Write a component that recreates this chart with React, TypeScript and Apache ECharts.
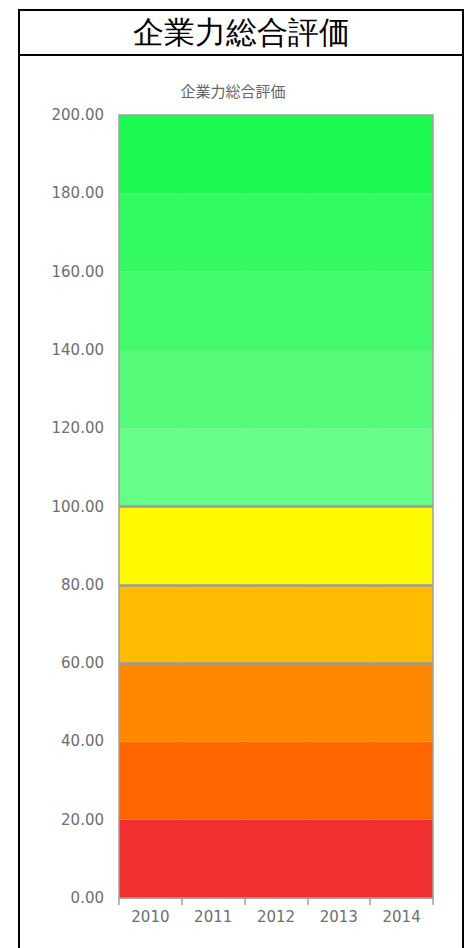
import React, { useEffect, useRef } from "react";
import * as echarts from "echarts";

const pageTitle = "企業力総合評価";
const chartTitle = "企業力総合評価";
const years = ["2010", "2011", "2012", "2013", "2014"];
// height of each colour band (bottom to top), same for every year
const bandHeights = [20, 20, 20, 20, 20, 20, 20, 20, 20, 20];
const bandColors = [
  "#f12f31",
  "#ff6600",
  "#ff8800",
  "#ffbb00",
  "#fffa00",
  "#66fd88",
  "#55fb78",
  "#43fa6c",
  "#33fa60",
  "#1dfa52",
];
const thresholdLines = [60, 80, 100];
const yMin = 0;
const yMax = 200;
const yStep = 20;

export default function App() {
  const ref = useRef<HTMLDivElement>(null);

  useEffect(() => {
    if (!ref.current) return;
    const chart = echarts.init(ref.current, undefined, { renderer: "svg" });
    const series: any[] = bandHeights.map((h, i) => ({
      name: `band${i + 1}`,
      type: "bar",
      stack: "bands",
      barWidth: "103%",
      clip: true,
      itemStyle: { color: bandColors[i] },
      data: years.map(() => h),
      silent: true,
    }));
    series[series.length - 1].markLine = {
      silent: true,
      symbol: "none",
      label: { show: false },
      lineStyle: { color: "#9a9a9a", width: 2.5, type: "solid" },
      data: thresholdLines.map((v) => ({ yAxis: v })),
    };
    chart.setOption({
      animation: false,
      title: {
        text: chartTitle,
        left: 228,
        top: 79,
        textAlign: "center",
        textStyle: {
          fontSize: 15,
          fontWeight: "normal",
          color: "#666",
          fontFamily: "DejaVu Sans, Noto Sans CJK JP, sans-serif",
        },
      },
      grid: {
        left: 119,
        right: 35,
        top: 115,
        bottom: 50,
        show: true,
        borderColor: "#a0a0a0",
        borderWidth: 1.5,
        backgroundColor: "transparent",
        z: 5,
      },
      xAxis: {
        type: "category",
        data: years,
        boundaryGap: true,
        axisLine: { show: true, lineStyle: { color: "#a0a0a0", width: 1.5 } },
        axisTick: { show: true, length: 7, lineStyle: { color: "#a0a0a0", width: 1.5 } },
        axisLabel: {
          color: "#6e6e6e",
          fontSize: 15,
          margin: 11,
          fontFamily: "DejaVu Sans, sans-serif",
        },
        splitLine: { show: false },
      },
      yAxis: {
        type: "value",
        min: yMin,
        max: yMax,
        interval: yStep,
        axisLine: { show: false },
        axisTick: { show: false },
        splitLine: { show: false },
        axisLabel: {
          color: "#6e6e6e",
          fontSize: 15,
          margin: 15,
          fontFamily: "DejaVu Sans, sans-serif",
          formatter: (v: number) => v.toFixed(2),
        },
      },
      series,
    });
    return () => chart.dispose();
  }, []);

  return (
    <div style={{ position: "absolute", left: 0, top: 0, width: 468, height: 948, overflow: "hidden", background: "#fff" }}>
      <div
        style={{
          position: "absolute",
          left: 18,
          top: 9,
          width: 442,
          height: 960,
          border: "2px solid #000",
          boxSizing: "content-box",
        }}
      >
        <div
          style={{
            height: 43,
            borderBottom: "2px solid #000",
            textAlign: "center",
            fontFamily: "serif",
            fontSize: 31,
            fontWeight: 300,
            lineHeight: "43px",
            color: "#000",
          }}
        >
          {pageTitle}
        </div>
      </div>
      <div ref={ref} style={{ position: "absolute", left: 0, top: 0, width: 468, height: 948 }} />
    </div>
  );
}
